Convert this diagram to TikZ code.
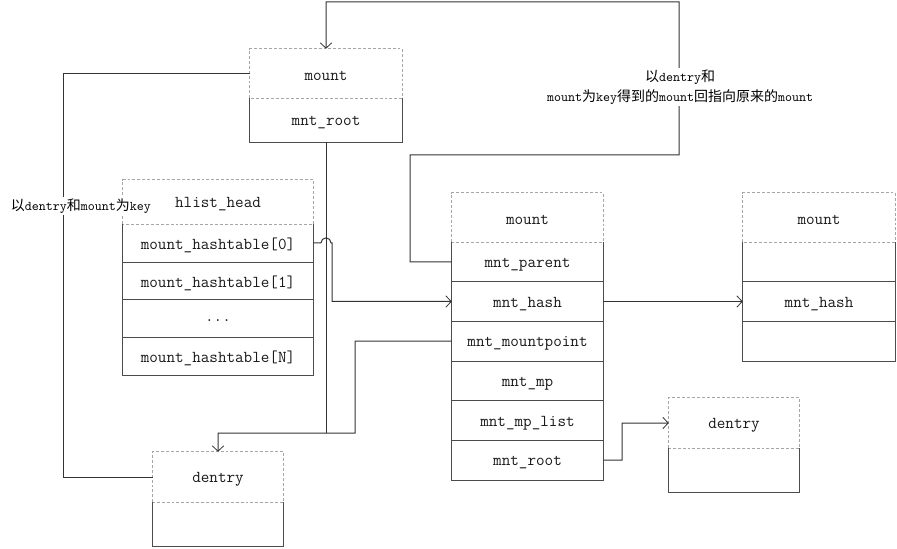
\documentclass[tikz,border=0pt]{standalone}
\usepackage{fontspec}
\newfontfamily\cjk{Noto Sans CJK SC}
\usetikzlibrary{arrows.meta}
\newcommand\zh[1]{{\cjk\fontsize{10.5}{15}\selectfont #1}}
\newcommand\mkcell[6]{\node[cell, minimum width={(#4-#2)*0.75pt}, minimum height={(#5-#3)*0.75pt}] (#1) at ({(#2+#4)/2},{(#3+#5)/2}) {\raisebox{-1.8pt}[\height][\depth]{#6}};}
\newcommand\hdrbox[1]{\draw[dashb] (#1.south west) rectangle (#1.north east);}
\newcommand\rowbox[1]{\draw[solidb] (#1.north west) -- (#1.south west) -- (#1.south east) -- (#1.north east);}
\begin{document}
\begin{tikzpicture}[x=0.75pt,y=-0.75pt,
  cell/.style={inner sep=0pt, font=\ttfamily\fontsize{12.5}{14}\selectfont, text=black!90},
  dashb/.style={draw=black!35, dashed, dash pattern=on 2.2pt off 1.5pt, line width=0.75pt},
  solidb/.style={draw=black!70, line width=0.75pt},
  conn/.style={draw=black!80, line width=0.75pt},
  arr/.style={-{Straight Barb[length=4pt,width=8.5pt,line width=0.6pt]}},
  lbl/.style={fill=white, inner sep=1pt, align=center, font=\ttfamily\fontsize{10}{15}\selectfont, text=black}]
\useasboundingbox (0,0) rectangle (897,549);
% top mount
\mkcell{tm}{250}{49}{402}{98}{mount}
\mkcell{tmr}{250}{98}{402}{142}{mnt\_root}
% hlist
\mkcell{hh}{123}{180}{313}{224}{hlist\_head}
\mkcell{h0}{123}{224}{313}{261.75}{mount\_hashtable[0]}
\mkcell{h1}{123}{261.75}{313}{299.5}{mount\_hashtable[1]}
\mkcell{h2}{123}{299.5}{313}{337.25}{...}
\mkcell{hn}{123}{337.25}{313}{375}{mount\_hashtable[N]}
% middle mount
\mkcell{mm}{452}{193}{603}{242}{mount}
\mkcell{mp}{452}{242}{603}{281.67}{mnt\_parent}
\mkcell{mh}{452}{281.67}{603}{321.33}{mnt\_hash}
\mkcell{mmp}{452}{321.33}{603}{361}{mnt\_mountpoint}
\mkcell{mmm}{452}{361}{603}{400.67}{mnt\_mp}
\mkcell{mml}{452}{400.67}{603}{440.33}{mnt\_mp\_list}
\mkcell{mr}{452}{440.33}{603}{480}{mnt\_root}
% right mount
\mkcell{rm}{743}{193}{895}{242}{mount}
\mkcell{r1}{743}{242}{895}{281.67}{}
\mkcell{rh}{743}{281.67}{895}{321.33}{mnt\_hash}
\mkcell{r3}{743}{321.33}{895}{361}{}
% dentry left
\mkcell{dl}{153}{452}{283}{502}{dentry}
\mkcell{dlr}{153}{502}{283}{546}{}
% dentry right
\mkcell{dr}{669}{398}{799}{448}{dentry}
\mkcell{drr}{669}{448}{799}{492}{}
% outlines
\hdrbox{tm}\rowbox{tmr}
\hdrbox{hh}\rowbox{h0}\rowbox{h1}\rowbox{h2}\rowbox{hn}
\hdrbox{mm}\rowbox{mp}\rowbox{mh}\rowbox{mmp}\rowbox{mmm}\rowbox{mml}\rowbox{mr}
\hdrbox{rm}\rowbox{r1}\rowbox{rh}\rowbox{r3}
\hdrbox{dl}\rowbox{dlr}
\hdrbox{dr}\rowbox{drr}
% connectors
\draw[conn,arr] (mp.west) -- (410,261.83) |- (679,155) -- (679,2) -| (tm.north);
\node[lbl] (lab1) at (680,87) {\zh{以}dentry\zh{和}\\mount\zh{为}key\zh{得到的}mount\zh{回指向原来的}mount};
\draw[conn] (tm.west) -- (63,73.5) |- (dl.west);
\node[lbl] (lab2) at (81,206) {\zh{以}dentry\zh{和}mount\zh{为}key};
\coordinate (j) at (326,433);
\draw[conn] (tmr.south) -- (j);
\draw[conn,arr] (mmp.west) -- (355,341.17) |- (j) -| (dl.north);
\draw[conn,arr] (h0.east) -- (321,242.875) arc[start angle=180,end angle=0,radius=3.75pt] -- (332,242.875) |- (mh.west);
\draw[conn,arr] (mh.east) -- (rh.west);
\draw[conn,arr] (mr.east) -- (622,460.17) |- (dr.west);
\end{tikzpicture}
\end{document}
